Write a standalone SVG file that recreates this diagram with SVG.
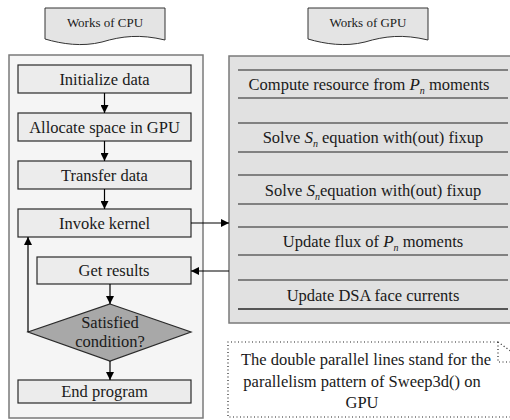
<svg xmlns="http://www.w3.org/2000/svg" width="510" height="420" viewBox="0 0 510 420">
<style>
text{fill:#1a1a1a;text-anchor:middle}
.t{font-size:16.5px}
.tag{font-size:13px}
.box{fill:#ececec;stroke:#2a2a2a;stroke-width:1.2}
.panel{stroke:#7a7a7a;stroke-width:1.5}
.ln{stroke:#222;stroke-width:1.1;fill:none}
.m{font-style:italic;font-size:17px}
.sub{font-style:italic;font-size:10px}
.dot{fill:none;stroke:#222;stroke-width:1.2;stroke-dasharray:1 2.5}
</style>
<defs>
<marker id="ah" viewBox="0 0 10 10" refX="10" refY="5" markerWidth="8" markerHeight="8" markerUnits="userSpaceOnUse" orient="auto">
<path d="M0,0 L10,5 L0,10 Z" fill="#000"/>
</marker>
</defs>
<g font-family="'Liberation Serif', Tinos, 'Times New Roman', serif">

<g id="tag-cpu">
<path d="M45,8 H165 V40 C140,34 122,36 102,42 C82,47 62,44 45,39 Z" fill="#e4e4e4" stroke="#333" stroke-width="1"/>
<text class="tag" x="105" y="27">Works of CPU</text>
</g>
<g id="tag-gpu">
<path d="M308,8 H428 V40 C403,34 385,36 365,42 C345,47 325,44 308,39 Z" fill="#e4e4e4" stroke="#333" stroke-width="1"/>
<text class="tag" x="368" y="27">Works of GPU</text>
</g>

<g id="cpu-panel"><rect class="panel" x="9" y="55" width="194" height="363" fill="#f5f5f5"/></g>
<g id="gpu-panel">
<rect class="panel" x="229" y="56" width="290" height="267" fill="#e1e1e1"/>
<g class="ln">
<line x1="238" y1="70" x2="508" y2="70"/>
<line x1="238" y1="98" x2="508" y2="98"/>
<line x1="238" y1="123" x2="508" y2="123"/>
<line x1="238" y1="152" x2="508" y2="152"/>
<line x1="238" y1="175" x2="508" y2="175"/>
<line x1="238" y1="204" x2="508" y2="204"/>
<line x1="238" y1="227" x2="508" y2="227"/>
<line x1="238" y1="255" x2="508" y2="255"/>
<line x1="238" y1="280" x2="508" y2="280"/>
</g>
<line x1="238" y1="309" x2="508" y2="309" stroke="#555" stroke-width="2"/>
<text class="t" x="369" y="90">Compute resource from  <tspan class="m">P</tspan><tspan class="sub" dy="4">n</tspan><tspan dy="-4">  moments</tspan></text>
<text class="t" x="373" y="143">Solve  <tspan class="m">S</tspan><tspan class="sub" dy="4">n</tspan><tspan dy="-4">  equation with(out) fixup</tspan></text>
<text class="t" x="373" y="196">Solve  <tspan class="m">S</tspan><tspan class="sub" dy="4">n</tspan><tspan dy="-4">equation with(out) fixup</tspan></text>
<text class="t" x="373" y="247">Update flux of <tspan class="m">P</tspan><tspan class="sub" dy="4">n</tspan><tspan dy="-4">  moments</tspan></text>
<text class="t" x="373" y="301">Update DSA face currents</text>
</g>

<g id="n-init"><rect class="box" x="18" y="65" width="173" height="28"/><text class="t" x="104.5" y="85">Initialize data</text></g>
<g id="n-alloc"><rect class="box" x="18" y="113" width="173" height="28"/><text class="t" x="104.5" y="133">Allocate space in GPU</text></g>
<g id="n-transfer"><rect class="box" x="18" y="161" width="173" height="28"/><text class="t" x="104.5" y="181">Transfer data</text></g>
<g id="n-invoke"><rect class="box" x="18" y="209" width="173" height="28"/><text class="t" x="104.5" y="229">Invoke kernel</text></g>
<g id="n-get"><rect class="box" x="37" y="257" width="154" height="27"/><text class="t" x="114" y="276">Get results</text></g>
<g id="n-cond"><path d="M110,304 L191,332 L110,361 L28,332 Z" fill="#a8a8a8" stroke="#2a2a2a" stroke-width="1.2"/>
<text class="t" x="110" y="328">Satisfied</text><text class="t" x="110" y="347">condition?</text></g>
<g id="n-end"><rect class="box" x="18" y="380" width="173" height="23"/><text class="t" x="104.5" y="397">End program</text></g>

<g id="note">
<path class="dot" d="M498,342 H228 V417 H512"/>
<path class="dot" d="M498,342 L512,352 M498,342 V362 H512"/>
<text class="t" x="366" y="365">The double parallel lines stand for the</text>
<text class="t" x="362" y="387">parallelism pattern of Sweep3d() on</text>
<text class="t" x="362" y="408">GPU</text>
</g>

<g id="connectors" stroke="#000" stroke-width="1.2" fill="none">
<line x1="104.5" y1="93" x2="104.5" y2="113" marker-end="url(#ah)"/>
<line x1="104.5" y1="141" x2="104.5" y2="161" marker-end="url(#ah)"/>
<line x1="104.5" y1="189" x2="104.5" y2="209" marker-end="url(#ah)"/>
<line x1="191" y1="223" x2="229" y2="223" marker-end="url(#ah)"/>
<line x1="229" y1="271" x2="191" y2="271" marker-end="url(#ah)"/>
<line x1="110" y1="284" x2="110" y2="304" marker-end="url(#ah)"/>
<line x1="110" y1="361" x2="110" y2="380" marker-end="url(#ah)"/>
<polyline points="28,332 28,237" marker-end="url(#ah)"/>
</g>
</g>
</svg>
